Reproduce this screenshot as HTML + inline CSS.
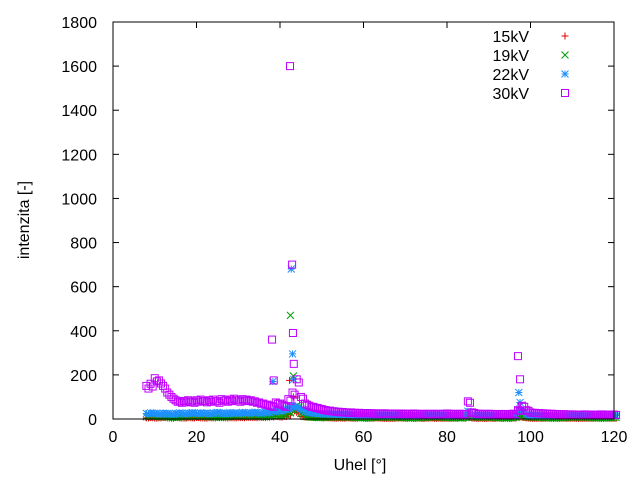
<!DOCTYPE html>
<html><head><meta charset="utf-8"><style>
body{margin:0;background:#fff}
svg text{font-family:"Liberation Sans",sans-serif;font-size:16px;fill:#000}
</style></head><body>
<svg id="chart" width="640" height="480" xmlns="http://www.w3.org/2000/svg">
<g id="grid"></g>
<g id="marks"></g>
<rect x="113" y="22" width="501" height="397" fill="none" stroke="#000" stroke-width="1"/>
<text x="360" y="470" text-anchor="middle">Uhel [°]</text>
<text transform="translate(29,220) rotate(-90)" text-anchor="middle">intenzita [-]</text>
<g id="legend"></g>
</svg>
<script>
const xTicks=[0,20,40,60,80,100,120];
const yTicks=[0,200,400,600,800,1000,1200,1400,1600,1800];
const seriesNames=["15kV","19kV","22kV","30kV"];
const baseStart=8;
const base15=[5,6,4,5,7,5,4,6,5,4, 6,5,7,5,4,6,5,7,6,5, 6,5,7,6,8,7,6,8,7,9, 10,12,9,12,20,40,30,12,9,8, 7,6,5,6,5,4,5,4,5,4, 3,5,4,3,4,5,4,3,4,3, 5,4,3,4,3,4,3,4,5,3, 4,3,4,3,4,5,4,8,4,3, 4,3,4,3,4,3,4,3,4,10, 8,5,4,3,4,3,4,3,4,3, 4,3,4,3,4,3,4,3,4,3, 4,3,4];
const base19=[10,12,11,10,12,11,10,9,11,12, 10,11,12,10,11,12,10,11,12,11, 12,13,12,11,13,12,14,13,12,14, 15,18,16,20,30,40,60,25,12,10, 9,8,9,8,7,8,7,8,7,8, 7,8,7,6,7,8,7,6,7,6, 7,8,7,6,7,6,7,6,7,8, 7,6,7,6,7,6,7,15,8,7, 6,7,6,7,6,7,6,7,8,20, 15,8,7,6,7,6,7,6,7,6, 7,6,7,6,7,6,7,6,7,6, 7,6,7];
const base22=[25,28,26,24,27,25,23,26,28,25, 27,29,26,28,27,25,28,30,27,26, 29,28,27,30,28,29,31,28,30,32, 35,40,38,45,50,60,55,45,35,30, 28,26,25,24,23,22,22,21,21,20, 20,20,19,19,20,19,18,19,18,18, 19,18,17,18,17,18,17,18,17,18, 17,16,17,16,17,16,17,35,20,17, 16,17,16,15,16,15,16,17,18,40, 35,20,18,17,16,17,16,15,16,15, 16,15,16,15,16,15,16,15,16,15, 16,15,16];
const base30=[150,160,185,175,150,120,100,85,80,82, 85,80,85,88,82,85,88,80,90,85, 88,92,85,90,88,85,80,75,70,65, 60,75,70,60,90,120,180,100,70,60, 55,50,45,40,38,35,33,32,30,30, 28,28,27,27,26,26,25,26,25,25, 24,25,24,24,25,24,23,24,23,24, 23,24,25,24,23,24,23,80,30,25, 24,23,24,23,22,23,22,23,24,40, 60,40,30,28,27,26,25,24,23,22, 22,21,21,20,20,21,20,20,20,21, 20,20,20];
const peakAng15=[42.3,43.2,97.5];
const peakVal15=[175,100,40];
const peakAng19=[42.5,43.2,97.5];
const peakVal19=[470,195,60];
const peakAng22=[38.3,42.7,43.0,43.3,97.2,97.5];
const peakVal22=[170,680,295,180,120,75];
const peakAng30=[38.1,38.5,42.4,42.9,43.1,43.3,97.0,97.5];
const peakVal30=[360,175,1600,700,390,250,285,180];

const X0=113,X1=614,Y0=419,Y1=22;
const xs=v=>X0+(v-0)/(120-0)*(X1-X0);
const ys=v=>Y0-(v-0)/(1800-0)*(Y0-Y1);
const NS="http://www.w3.org/2000/svg";
function mk(tag,attrs,parent){const e=document.createElementNS(NS,tag);for(const k in attrs)e.setAttribute(k,attrs[k]);parent.appendChild(e);return e;}
const grid=document.getElementById('grid');
xTicks.forEach(t=>{
  const l=mk('line',{x1:xs(t),x2:xs(t),y1:Y0,y2:Y0-6,stroke:'#000'},grid);
  
  
  const l2=mk('line',{x1:xs(t),x2:xs(t),y1:Y1,y2:Y1+6,stroke:'#000'},grid);
  
  
  const tx=mk('text',{x:xs(t),y:Y0+23,'text-anchor':'middle'},grid);tx.textContent=t;
  
  
});
yTicks.forEach(t=>{
  const l=mk('line',{x1:X0,x2:X0+6,y1:ys(t),y2:ys(t),stroke:'#000'},grid);
  
  
  const l2=mk('line',{x1:X1,x2:X1-6,y1:ys(t),y2:ys(t),stroke:'#000'},grid);
  
  
  const tx=mk('text',{x:X0-16,y:ys(t)+6,'text-anchor':'end'},grid);tx.textContent=t;
  
  
});
const colors=['#e00000','#00a000','#1e90ff','#c000ff'];
function marker(kind,cx,cy,par){
  const r=3.5,c=colors[kind];
  if(kind===0){mk('path',{d:`M${cx-r} ${cy}H${cx+r}M${cx} ${cy-r}V${cy+r}`,stroke:c,fill:'none'},par);}
  else if(kind===1){mk('path',{d:`M${cx-r} ${cy-r}L${cx+r} ${cy+r}M${cx-r} ${cy+r}L${cx+r} ${cy-r}`,stroke:c,fill:'none'},par);}
  else if(kind===2){mk('path',{d:`M${cx-r} ${cy}H${cx+r}M${cx} ${cy-r}V${cy+r}M${cx-r} ${cy-r}L${cx+r} ${cy+r}M${cx-r} ${cy+r}L${cx+r} ${cy-r}`,stroke:c,fill:'none'},par);}
  else {mk('rect',{x:cx-r,y:cy-r,width:2*r,height:2*r,stroke:c,fill:'none'},par);}
}
const marks=document.getElementById('marks');
const bases=[base15,base19,base22,base30];
const pa=[peakAng15,peakAng19,peakAng22,peakAng30];
const pv=[peakVal15,peakVal19,peakVal22,peakVal30];
bases.forEach((arr,k)=>{
  const g=mk('g',{},marks);
  
  
  arr.forEach((v,i)=>{
    const a=baseStart+i;
    marker(k,xs(a),ys(v),g);
    marker(k,xs(a+0.5),ys(v*0.92),g);
  });
  pa[k].forEach((a,i)=>marker(k,xs(a),ys(pv[k][i]),g));
});
const leg=document.getElementById('legend');
seriesNames.forEach((n,k)=>{
  const y=36+k*19;
  const g=mk('g',{},leg);
  
  
  const t=mk('text',{x:529,y:y+6,'text-anchor':'end'},g);t.textContent=n;
  marker(k,565,y,g);
});
</script>
</body></html>
